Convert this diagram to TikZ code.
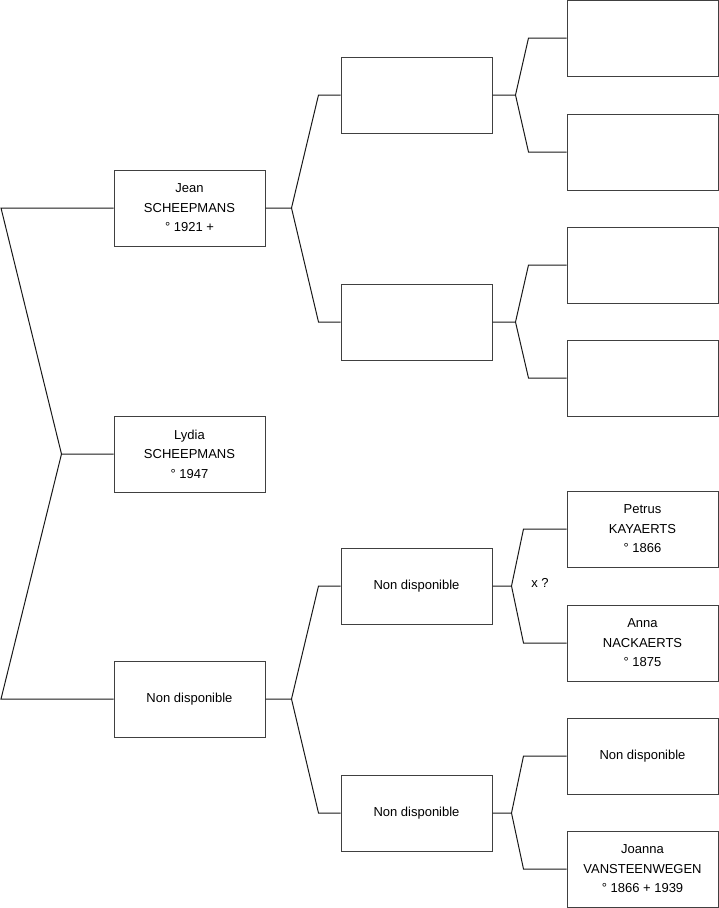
\documentclass[tikz,border=0pt]{standalone}
\usepackage{fontspec}
\setmainfont{Liberation Sans}
\begin{document}
\begin{tikzpicture}[x=1pt,y=-1pt,
  person/.style={draw=black!75,line width=1pt,rectangle,minimum width=151pt,minimum height=76pt,inner sep=0pt,align=center,font=\fontsize{13}{19.5}\selectfont,fill=white},
  link/.style={draw=black!90,line width=1pt},
  note/.style={font=\fontsize{13}{15}\selectfont,inner sep=0pt}]
\useasboundingbox (0,0) rectangle (719,908);
% generation 1
\node[person] (p1) at (189.5,208) {Jean\\SCHEEPMANS\\° 1921 +};
\node[person] (p0) at (189.5,454) {Lydia\\SCHEEPMANS\\° 1947};
\node[person] (p2) at (189.5,699) {Non disponible};
% generation 2
\node[person] (g2a) at (416.5,95) {};
\node[person] (g2b) at (416.5,322) {};
\node[person] (g2c) at (416.5,586) {Non disponible};
\node[person] (g2d) at (416.5,813) {Non disponible};
% generation 3
\node[person] (g3a) at (642.5,38) {};
\node[person] (g3b) at (642.5,152) {};
\node[person] (g3c) at (642.5,265) {};
\node[person] (g3d) at (642.5,378) {};
\node[person] (g3e) at (642.5,529) {Petrus\\KAYAERTS\\° 1866};
\node[person] (g3f) at (642.5,643) {Anna\\NACKAERTS\\° 1875};
\node[person] (g3g) at (642.5,756) {Non disponible};
\node[person] (g3h) at (642.5,869) {Joanna\\VANSTEENWEGEN\\° 1866 + 1939};
\node[note] (xq) at (540,583) {x ?};
% root fork (to the left)
\coordinate (L) at (1,0);
\draw[link] (p0.west) -- ([xshift=-52pt]p0.west) -- (p1.west -| L) -- (p1.west);
\draw[link] ([xshift=-52pt]p0.west) -- (p2.west -| L) -- (p2.west);
% generation 1 -> 2
\draw[link] (p1.east) -- ([xshift=26pt]p1.east) -- ([xshift=-22pt]g2a.west) -- (g2a.west);
\draw[link] ([xshift=26pt]p1.east) -- ([xshift=-22pt]g2b.west) -- (g2b.west);
\draw[link] (p2.east) -- ([xshift=26pt]p2.east) -- ([xshift=-22pt]g2c.west) -- (g2c.west);
\draw[link] ([xshift=26pt]p2.east) -- ([xshift=-22pt]g2d.west) -- (g2d.west);
% generation 2 -> 3
\draw[link] (g2a.east) -- ([xshift=23pt]g2a.east) -- ([xshift=-38pt]g3a.west) -- (g3a.west);
\draw[link] ([xshift=23pt]g2a.east) -- ([xshift=-38pt]g3b.west) -- (g3b.west);
\draw[link] (g2b.east) -- ([xshift=23pt]g2b.east) -- ([xshift=-38pt]g3c.west) -- (g3c.west);
\draw[link] ([xshift=23pt]g2b.east) -- ([xshift=-38pt]g3d.west) -- (g3d.west);
\draw[link] (g2c.east) -- ([xshift=19pt]g2c.east) -- ([xshift=-43pt]g3e.west) -- (g3e.west);
\draw[link] ([xshift=19pt]g2c.east) -- ([xshift=-43pt]g3f.west) -- (g3f.west);
\draw[link] (g2d.east) -- ([xshift=19pt]g2d.east) -- ([xshift=-43pt]g3g.west) -- (g3g.west);
\draw[link] ([xshift=19pt]g2d.east) -- ([xshift=-43pt]g3h.west) -- (g3h.west);
\end{tikzpicture}
\end{document}
